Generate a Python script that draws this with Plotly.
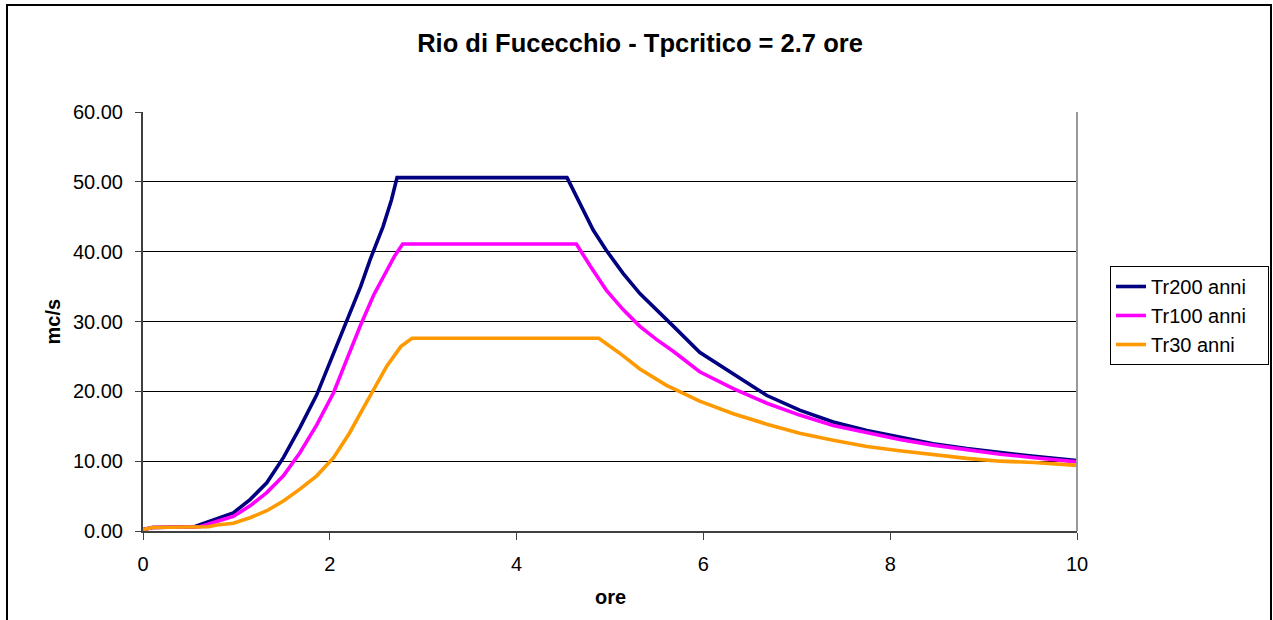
import plotly.graph_objects as go

# hours / discharge (mc/s)
ore_tr200 = [0, 0.1, 0.55, 0.79, 0.967, 1.146, 1.325, 1.503, 1.68, 1.86, 2.0, 2.18, 2.33, 2.43, 2.57,
             2.66, 2.72, 4.54, 4.68, 4.82, 4.96, 5.14, 5.32, 5.50, 5.68, 5.96, 6.32, 6.68, 7.03,
             7.39, 7.75, 8.10, 8.46, 8.82, 9.18, 9.54, 10.0]
q_tr200 = [0.2, 0.5, 0.6, 1.7, 2.6, 4.5, 6.9, 10.5, 14.8, 19.5, 24.2, 30.0, 35.0, 38.8, 43.6,
           47.4, 50.6, 50.6, 46.9, 43.1, 40.2, 36.9, 34.0, 31.7, 29.3, 25.6, 22.5, 19.4, 17.3,
           15.6, 14.4, 13.4, 12.5, 11.8, 11.2, 10.7, 10.1]

ore_tr100 = [0, 0.1, 0.61, 0.79, 0.967, 1.146, 1.325, 1.503, 1.68, 1.86, 2.04, 2.18, 2.33, 2.47,
             2.6, 2.69, 2.78, 4.64, 4.79, 4.96, 5.14, 5.32, 5.50, 5.68, 5.96, 6.32, 6.68, 7.03,
             7.39, 7.75, 8.10, 8.46, 8.82, 9.18, 9.54, 10.0]
q_tr100 = [0.2, 0.5, 0.6, 1.3, 2.1, 3.6, 5.5, 7.9, 11.2, 15.2, 19.8, 24.5, 29.5, 33.8,
           37.0, 39.3, 41.1, 41.1, 37.9, 34.5, 31.7, 29.3, 27.4, 25.7, 22.8, 20.4, 18.3, 16.6,
           15.1, 14.1, 13.1, 12.3, 11.6, 11.0, 10.5, 9.9]

ore_tr30 = [0, 0.1, 0.7, 0.79, 0.967, 1.146, 1.325, 1.503, 1.68, 1.86, 2.04, 2.21, 2.33, 2.47,
            2.61, 2.76, 2.88, 4.88, 5.10, 5.32, 5.6, 5.96, 6.32, 6.68, 7.03, 7.39, 7.75, 8.10,
            8.46, 8.82, 9.18, 9.54, 10.0]
q_tr30 = [0.2, 0.5, 0.6, 0.86, 1.1, 1.9, 2.9, 4.3, 6.0, 7.9, 10.5, 14.0, 16.9, 20.2,
          23.6, 26.4, 27.6, 27.6, 25.5, 23.2, 20.9, 18.6, 16.8, 15.3, 14.0, 13.0, 12.1, 11.5,
          10.9, 10.4, 10.0, 9.8, 9.4]

series = [
    ("Tr200 anni", ore_tr200, q_tr200, "#000080"),
    ("Tr100 anni", ore_tr100, q_tr100, "#FF00FF"),
    ("Tr30 anni", ore_tr30, q_tr30, "#FF9900"),
]

FONT = "Arial, Liberation Sans, sans-serif"

fig = go.Figure()
for name, x, y, color in series:
    fig.add_trace(go.Scatter(x=x, y=y, mode="lines", name=name + "\u00a0\u00a0\u00a0",
                             line=dict(color=color, width=3.6)))

fig.update_layout(
    width=1273, height=620,
    margin=dict(l=143, r=196, t=112, b=89, autoexpand=False),
    paper_bgcolor="white", plot_bgcolor="white",
    font=dict(family=FONT, size=20, color="black"),
    showlegend=True,
    title=dict(text="<b>Rio di Fucecchio - Tpcritico = 2.7 ore</b>",
               xref="container", x=640 / 1273, xanchor="center",
               yref="container", y=1 - 43 / 620, yanchor="middle",
               font=dict(family=FONT, size=25.5, color="black")),
    legend=dict(x=(1110 - 143) / 934, xanchor="left", y=(531 - 266) / 419, yanchor="top",
                bordercolor="black", borderwidth=1, bgcolor="white",
                font=dict(family=FONT, size=20, color="black")),
)

fig.update_xaxes(range=[0, 10], tickvals=[0, 2, 4, 6, 8, 10],
                 showgrid=False, zeroline=False,
                 showline=True, linecolor="#404040", linewidth=2,
                 ticks="outside", ticklen=7, tickcolor="#404040",
                 ticklabelstandoff=7)
fig.update_yaxes(range=[0, 60], tickvals=[0, 10, 20, 30, 40, 50, 60], tickformat=".2f",
                 showgrid=True, gridcolor="black", gridwidth=1, zeroline=False,
                 showline=True, linecolor="#404040", linewidth=2,
                 ticks="outside", ticklen=6, tickcolor="#404040",
                 ticklabelstandoff=8)

# axis titles
fig.add_annotation(text="<b>mc/s</b>", xref="paper", yref="paper",
                   x=(52 - 143) / 934, y=0.5, xanchor="center", yanchor="middle",
                   textangle=-90, showarrow=False,
                   font=dict(family=FONT, size=20, color="black"))
fig.add_annotation(text="<b>ore</b>", xref="paper", yref="paper",
                   x=0.5, y=(531 - 597) / 419, xanchor="center", yanchor="middle",
                   showarrow=False,
                   font=dict(family=FONT, size=20, color="black"))

# plot area right border (gray) and chart outer frame
fig.add_shape(type="line", xref="paper", yref="paper", x0=1, x1=1, y0=0, y1=1,
              line=dict(color="#999999", width=2))
fig.add_shape(type="rect", xref="paper", yref="paper",
              x0=(7 - 143) / 934, x1=(1271 - 143) / 934,
              y0=(531 - 630) / 419, y1=(531 - 5) / 419,
              line=dict(color="black", width=2))

fig.write_html("out.html", config={"displayModeBar": False},
               post_script="document.body.style.margin = '0';")
